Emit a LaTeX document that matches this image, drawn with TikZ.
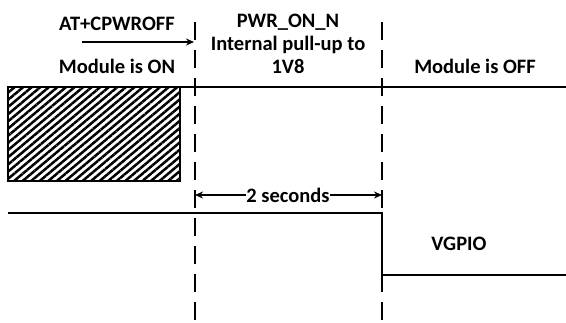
\documentclass[tikz,border=0pt]{standalone}
\usepackage{fontspec}
\setmainfont{Carlito}
\usetikzlibrary{arrows,arrows.meta,positioning,patterns.meta}

\begin{document}
\begin{tikzpicture}[x=1pt,y=-1pt,>={Stealth[length=8pt,width=7pt]},
		wave/.style={line width=1.8pt},
		marker/.style={line width=1.8pt,dash pattern=on 18pt off 10pt},
		txt/.style={font=\bfseries\fontsize{20.5}{23}\selectfont,align=center,inner sep=1pt}]
		
		\useasboundingbox (0,0) rectangle (566,322);
		
		% dashed time markers
		\coordinate (m1top) at (195,22);
		\coordinate (m1bot) at (195,322);
		\coordinate (m2top) at (382,22);
		\coordinate (m2bot) at (382,322);
		\draw[marker] (m1top) -- (m1bot);
		\draw[marker] (m2top) -- (m2bot);
		
		% labels
		\node[txt] (cmd) at (117,24) {AT+CPWROFF};
		\node[txt] (on) at (117,66) {Module is ON};
		\node[txt] (pwr) at (288,44) {PWR\_ON\_N\\Internal pull-up to\\1V8};
		\node[txt] (off) at (475,66) {Module is OFF};
		\node[txt] (vgpio) at (459,244) {VGPIO};
		\node[txt,fill=white,inner sep=0pt] (sec) at (288,195) {2 seconds};
		
		\coordinate (cmdstart) at (82,42);
		\coordinate (cmdend) at (194,42);
		\draw[wave,->] (cmdstart) -- (cmdend);
		
		% PWR_ON_N line with hatched (undefined) part
		\coordinate (boxtl) at (8,87);
		\coordinate (boxbr) at (180,181);
		\coordinate (topend) at (566,87);
		\draw[wave,pattern={Lines[angle=40,distance=5.5pt,line width=2.5pt]}] (boxtl) rectangle (boxbr);
		\draw[wave] (boxtl) -- (topend);
		
		% 2 seconds
		\coordinate (s1) at (195,195);
		\coordinate (s2) at (382,195);
		\draw[wave,->] (sec.west) -- (s1);
		\draw[wave,->] (sec.east) -- (s2);
		
		% VGPIO
		\coordinate (v0) at (8,213);
		\coordinate (v1) at (382,213);
		\coordinate (v2) at (382,275);
		\coordinate (v3) at (566,275);
		\draw[wave] (v0) -- (v1) -- (v2) -- (v3);
\end{tikzpicture}
\end{document}
